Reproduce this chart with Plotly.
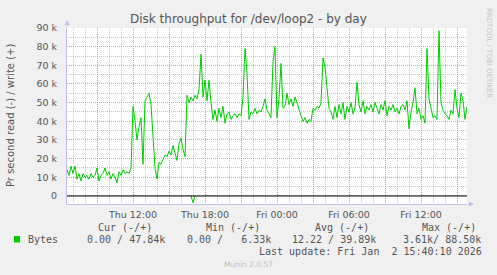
import pandas as pd
import plotly.graph_objects as go

# ---- data (values in k bytes/s) ----
start_time = "2026-01-01 06:30"
step_minutes = 10
write_k = [14, 11, 16, 12, 16, 9, 12, 8, 12, 10, 11, 9, 12, 10, 11, 15, 8, 11, 12, 15,
           11, 13, 9, 12, 10, 7, 13, 11, 14, 12, 13, 12, 15, 48, 40, 30, 37, 42, 17, 51,
           53, 55, 49, 34, 15, 9, 18, 17, 20, 22, 21, 24, 22, 27, 23, 19, 28, 31, 25, 21,
           54, 50, 53, 51, 54, 52, 57, 76, 53, 62, 51, 62, 50, 41, 46, 40, 47, 42, 48, 39,
           44, 45, 41, 43, 44, 42, 44, 43, 53, 79, 66, 41, 45, 44, 47, 44, 46, 45, 48, 52,
           46, 44, 42, 72, 80, 42, 52, 71, 47, 48, 55, 49, 52, 48, 53, 50, 46, 43, 40, 42,
           39, 41, 40, 47, 46, 48, 47, 50, 74, 69, 58, 47, 45, 41, 48, 42, 49, 44, 50, 41,
           48, 45, 50, 44, 47, 61, 49, 45, 51, 44, 48, 46, 49, 45, 50, 47, 44, 49, 46, 51,
           43, 48, 46, 49, 45, 47, 44, 48, 49, 46, 51, 36, 45, 50, 58, 44, 47, 41, 43, 39,
           79, 52, 46, 42, 43, 41, 88.5, 50, 46, 44, 43, 41, 46, 44, 57, 47, 42, 55, 51, 41,
           47.84]
read_times = ["2026-01-01 16:50", "2026-01-01 17:00", "2026-01-01 17:10"]
read_k = [0, -3.61, 0]

x_range = ["2026-01-01 06:30", "2026-01-02 15:50"]
y_range = [-4300, 90000]
major_grid_times = ["2026-01-01 09:00", "2026-01-01 12:00", "2026-01-01 15:00",
                    "2026-01-01 18:00", "2026-01-01 21:00", "2026-01-02 00:00",
                    "2026-01-02 03:00", "2026-01-02 06:00", "2026-01-02 09:00",
                    "2026-01-02 12:00", "2026-01-02 15:00"]
major_grid_text = ["", "Thu 12:00", "", "Thu 18:00", "", "Fri 00:00",
                   "", "Fri 06:00", "", "Fri 12:00", ""]
y_tick_vals = [0, 10000, 20000, 30000, 40000, 50000, 60000, 70000, 80000, 90000]
y_tick_text = ["0", "10 k", "20 k", "30 k", "40 k", "50 k", "60 k", "70 k", "80 k", "90 k"]

legend_headers = ["Cur (-/+)", "Min (-/+)", "Avg (-/+)", "Max (-/+)"]
legend_values = ["0.00 / 47.84k", "0.00 /   6.33k", "12.22 / 39.89k", "3.61k/ 88.50k"]
series_name = "Bytes"
title = "Disk throughput for /dev/loop2 - by day"
y_title = "Pr second read (-) / write (+)"
last_update = "Last update: Fri Jan  2 15:40:10 2026"

# ---- figure ----
W, H = 497, 275
L, T, PW, PH = 67, 28, 400, 176
GREEN = "#00CC00"
TXT = "#555555"
MAJ = "rgba(235,120,120,0.6)"
MIN = "rgba(150,150,150,0.5)"


def px(x):
    return (x - L) / PW


def py(y):
    return (T + PH - y) / PH


times = pd.date_range(start=start_time, periods=len(write_k), freq=f"{step_minutes}min")

fig = go.Figure()
fig.add_trace(go.Scatter(x=times, y=[v * 1000 for v in write_k], mode="lines",
                         line=dict(color=GREEN, width=1), hoverinfo="skip", showlegend=False))
fig.add_trace(go.Scatter(x=pd.to_datetime(read_times), y=[v * 1000 for v in read_k], mode="lines",
                         line=dict(color=GREEN, width=1), hoverinfo="skip", showlegend=False))

fig.add_shape(type="line", xref="paper", yref="y", x0=0, x1=1, y0=0, y1=0,
              line=dict(color="black", width=1), layer="above")

mono = "DejaVu Sans Mono"
sans = "DejaVu Sans"
ann = []
ann.append(dict(text=title, x=px(248), y=py(19), font=dict(family=sans, size=12, color=TXT),
                xanchor="center", yanchor="middle"))
ann.append(dict(text=y_title, x=px(11), y=py(115), textangle=-90,
                font=dict(family=sans, size=10, color=TXT), xanchor="center", yanchor="middle"))
ann.append(dict(text="RRDTOOL / TOBI OETIKER", x=px(489), y=py(53), textangle=90,
                font=dict(family=sans, size=7, color="#c4c4c4"), xanchor="center", yanchor="middle"))
header_centers = [125, 233, 342, 449]
for h, cx in zip(legend_headers, header_centers):
    ann.append(dict(text=h.replace(" ", "\u00a0"), x=px(cx), y=py(228),
                    font=dict(family=mono, size=10, color=TXT), xanchor="center", yanchor="middle"))
ann.append(dict(text=series_name, x=px(26), y=py(239.5),
                font=dict(family=mono, size=10, color=TXT), xanchor="left", yanchor="middle"))
value_rights = [167, 273, 378, 483]
for v, rx in zip(legend_values, value_rights):
    ann.append(dict(text=v.replace(" ", "\u00a0"), x=px(rx), y=py(239.5),
                    font=dict(family=mono, size=10, color=TXT), xanchor="right", yanchor="middle"))
ann.append(dict(text=last_update.replace(" ", "\u00a0"), x=px(484), y=py(251.7),
                font=dict(family=mono, size=10, color=TXT), xanchor="right", yanchor="middle"))
ann.append(dict(text="Munin 2.0.57", x=px(248), y=py(264.3),
                font=dict(family=sans, size=7.5, color="#c0c0c0"), xanchor="center", yanchor="middle"))
for a in ann:
    a.update(xref="paper", yref="paper", showarrow=False)

# axis arrows
AX = "#c0c0f0"
ann.append(dict(xref="paper", yref="paper", x=0, y=py(20), ax=0, ay=8, text="",
                showarrow=True, arrowhead=2, arrowsize=1, arrowwidth=1, arrowcolor=AX))
ann.append(dict(xref="paper", yref="paper", x=px(474), y=0, ax=-7, ay=0, text="",
                showarrow=True, arrowhead=2, arrowsize=1, arrowwidth=1, arrowcolor=AX))

fig.add_shape(type="rect", xref="paper", yref="paper", x0=px(14), x1=px(20), y0=py(242.5), y1=py(236),
              fillcolor=GREEN, line=dict(width=0))

fig.update_layout(
    width=W, height=H,
    margin=dict(l=L, r=W - L - PW, t=T, b=H - T - PH, pad=0),
    paper_bgcolor="#F0F0F0", plot_bgcolor="white",
    annotations=ann, showlegend=False,
    xaxis=dict(range=pd.to_datetime(x_range), tickmode="array",
               tickvals=pd.to_datetime(major_grid_times), ticktext=major_grid_text,
               showgrid=True, gridcolor=MAJ, griddash="1px,1px", gridwidth=1,
               minor=dict(dtick=3600000, tick0="2026-01-01 00:00", showgrid=True,
                          gridcolor=MIN, griddash="1px,1px", gridwidth=1),
               showline=True, linecolor=AX, linewidth=1, zeroline=False, ticks="",
               tickfont=dict(family=sans, size=9.5, color=TXT), ticklabelstandoff=2,
               fixedrange=True),
    yaxis=dict(range=y_range, tickmode="array", tickvals=y_tick_vals, ticktext=y_tick_text,
               showgrid=True, gridcolor=MAJ, griddash="1px,1px", gridwidth=1,
               minor=dict(dtick=5000, tick0=0, showgrid=True,
                          gridcolor=MIN, griddash="1px,1px", gridwidth=1),
               showline=True, linecolor=AX, linewidth=1, zeroline=False, ticks="",
               tickfont=dict(family=sans, size=9.5, color=TXT), ticklabelstandoff=7,
               fixedrange=True),
)

fig.write_html("out.html", config={"displayModeBar": False})
